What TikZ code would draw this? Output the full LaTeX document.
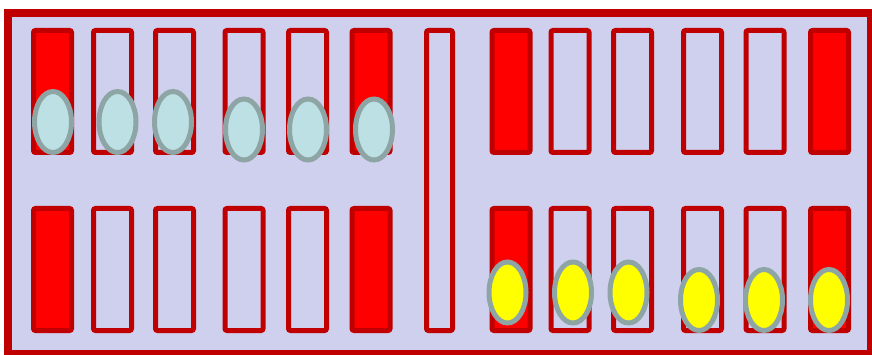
\documentclass[tikz,border=0pt]{standalone}
\definecolor{boardred}{HTML}{C00000}
\definecolor{boardbg}{HTML}{CFCFEE}
\definecolor{ptred}{HTML}{FF0000}
\definecolor{chkblue}{HTML}{BCE0E3}
\definecolor{chkedge}{HTML}{8EA5A5}
\definecolor{chkyellow}{HTML}{FFFF00}
\begin{document}
\begin{tikzpicture}[x=1pt,y=-1pt,
  board/.style={draw=boardred,fill=boardbg,line width=8pt},
  ptempty/.style={draw=boardred,line width=5pt,rounded corners=2pt},
  ptfull/.style={draw=boardred,fill=ptred,line width=5pt,rounded corners=2pt},
  chkb/.style={draw=chkedge,fill=chkblue,line width=5pt},
  chky/.style={draw=chkedge,fill=chkyellow,line width=5pt}]
\useasboundingbox (0,0) rectangle (872,355);
\clip (0,0) rectangle (872,355);
\fill[white] (0,0) rectangle (872,355);
\draw[board] (8,13) rectangle (871,354);
% points
\foreach \cx/\st in {52.5/ptfull,112.5/ptempty,174.5/ptempty,244/ptempty,307.5/ptempty,371/ptfull,511/ptfull,570/ptempty,632.5/ptempty,702.5/ptempty,765/ptempty,829.5/ptfull}{
  \draw[\st] (\cx-19,30.5) rectangle (\cx+19,152.5);
  \draw[\st] (\cx-19,208.5) rectangle (\cx+19,330.5);
}
% bar
\draw[ptempty] (426.5,30.5) rectangle (452.5,330.5);
% checkers
\foreach \cx/\cy in {53/122,117.5/122,173/122,244/129.5,308/129.5,374/129.5}{
  \draw[chkb] (\cx,\cy) ellipse [x radius=18.5,y radius=30.5];
}
\foreach \cx/\cy in {507.5/292.5,573/292.5,628.5/292.5,699/300,764/300,829/300}{
  \draw[chky] (\cx,\cy) ellipse [x radius=18.5,y radius=30.5];
}
\end{tikzpicture}
\end{document}
